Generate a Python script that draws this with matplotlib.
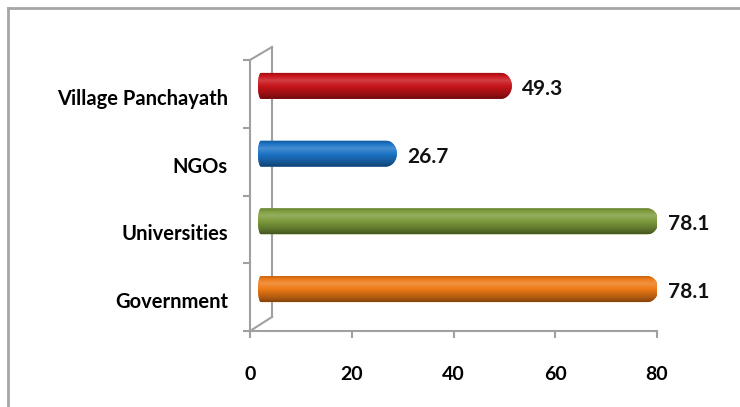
#!/usr/bin/env python3
import numpy as np
import matplotlib
matplotlib.use("Agg")
import matplotlib.pyplot as plt
from matplotlib.path import Path
from matplotlib.patches import PathPatch
from matplotlib.lines import Line2D
from matplotlib.colors import to_rgb

# data (bottom to top)
categories = ["Government", "Universities", "NGOs", "Village Panchayath"]
values = [78.1, 78.1, 26.7, 49.3]
bar_colors = ["#ee7a16", "#7d9c3c", "#1c74c6", "#c8141a"]
x_ticks = [0, 20, 40, 60, 80]

plt.rcParams['font.family'] = ['Lato', 'DejaVu Sans']

W, H = 740, 407
fig = plt.figure(figsize=(W / 100, H / 100), dpi=100)
ax = fig.add_axes([250 / W, (H - 331) / H, 407 / W, 271 / H])
ax.set_xlim(0, 80)
ax.set_ylim(-0.5, 3.5)

# pixel -> data scale
px_x = 80 / 407
px_y = 4 / 271

gray = "#a0a0a0"
bar_h = 26 * px_y
dx_bar = 8 * px_x
dy_bar = 8 * px_y
cap_r = 11 * px_x
left_r = 3 * px_x


def bar_path(x0, x1, yc, h):
    t = np.linspace(-np.pi / 2, np.pi / 2, 30)
    # right cap (bottom -> top)
    rx = x1 - cap_r + cap_r * np.cos(t)
    ry = yc + h / 2 * np.sin(t)
    # left cap (top -> bottom)
    lx = x0 + left_r - left_r * np.cos(t[::-1])
    ly = yc + h / 2 * np.sin(t[::-1])
    xs = np.concatenate([rx, lx, [rx[0]]])
    ys = np.concatenate([ry, ly, [ry[0]]])
    codes = [Path.MOVETO] + [Path.LINETO] * (len(xs) - 2) + [Path.CLOSEPOLY]
    return Path(np.column_stack([xs, ys]), codes)


# vertical shading profile of a cylinder (bottom -> top)
stops_t = [0.0, 0.15, 0.5, 0.72, 0.9, 1.0]
stops_f = [0.55, 0.72, 1.0, 1.18, 1.0, 0.8]
tt = np.linspace(0, 1, 64)
shade = np.interp(tt, stops_t, stops_f)

for i, (v, c) in enumerate(zip(values, bar_colors)):
    yc = i + dy_bar
    x0, x1 = dx_bar, v + dx_bar + 3 * px_x
    path = bar_path(x0, x1, yc, bar_h)
    base = np.array(to_rgb(c))
    grad = np.empty((len(tt), 1, 3))
    for k, f in enumerate(shade):
        if f <= 1:
            grad[k, 0] = base * f
        else:
            grad[k, 0] = base + (1 - base) * (f - 1)
    grad = np.clip(grad, 0, 1)
    patch = PathPatch(path, facecolor=c, edgecolor="none", zorder=3)
    ax.add_patch(patch)
    im = ax.imshow(grad, extent=[x0, x1, yc - bar_h / 2, yc + bar_h / 2],
                   origin="lower", aspect="auto", zorder=4, interpolation="bilinear")
    im.set_clip_path(patch)
    ax.text(x1 + 10 * px_x, yc - 3 * px_y, f"{v}", va="center", ha="left",
            fontsize=15, fontweight="bold", color="#111111")

# 3D wall lines
bx = 22 * px_x
ax.add_line(Line2D([0, bx], [3.5, 3.5 + 13 * px_y], color=gray, lw=1.5, clip_on=False))
ax.add_line(Line2D([bx, bx], [3.5 + 13 * px_y, -0.5 + 14 * px_y], color=gray, lw=1.5, clip_on=False))
ax.add_line(Line2D([0, bx], [-0.5, -0.5 + 14 * px_y], color=gray, lw=1.5, clip_on=False))

# axes styling
for s in ["top", "right"]:
    ax.spines[s].set_visible(False)
for s in ["left", "bottom"]:
    ax.spines[s].set_color(gray)
    ax.spines[s].set_linewidth(1.5)

ax.set_xticks(x_ticks)
ax.set_xticklabels([str(t) for t in x_ticks], fontsize=14, fontweight="bold")
ax.tick_params(axis="x", direction="out", length=5, width=1.5, color=gray, pad=20)

ax.set_yticks([i - 3 * px_y for i in range(len(categories))])
ax.set_yticklabels(categories, fontsize=14.5, fontweight="bold")
ax.tick_params(axis="y", length=0, pad=16)
ax.set_yticks(np.arange(-0.5, len(categories), 1.0), minor=True)
ax.tick_params(axis="y", which="minor", direction="out", length=5, width=1.5, color=gray)

# outer chart border
fig.add_artist(Line2D([8 / W, 8 / W], [0, 1 - 8 / H], color="#a6a6a6", lw=2, transform=fig.transFigure))
fig.add_artist(Line2D([8 / W, 1], [1 - 8 / H, 1 - 8 / H], color="#a6a6a6", lw=2, transform=fig.transFigure))

fig.savefig("out.png", dpi=100)
